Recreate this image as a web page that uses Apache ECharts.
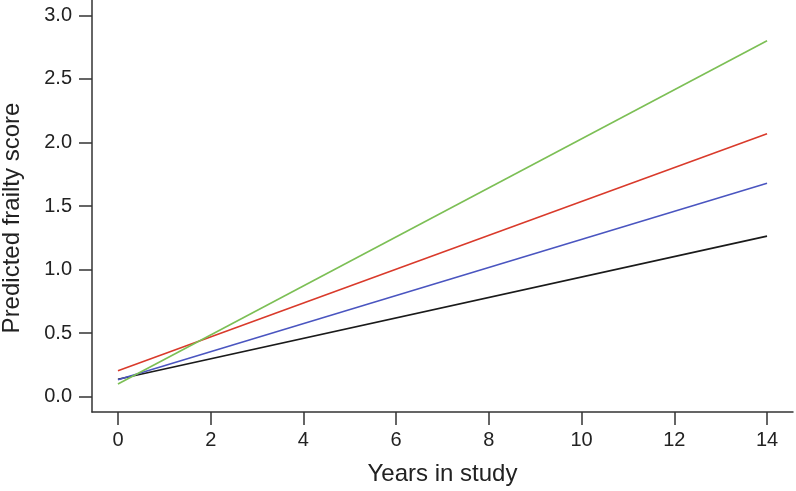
<!DOCTYPE html>
<html>
<head>
<meta charset="utf-8">
<script src="https://cdn.jsdelivr.net/npm/echarts@6/dist/echarts.min.js"></script>
<style>html,body{margin:0;padding:0;background:#fff;}#c{width:796px;height:491px;}</style>
</head>
<body>
<div id="c"></div>
<script>
const years = [0, 14];
const greenVals = [0.10, 2.80];
const redVals = [0.205, 2.068];
const blueVals = [0.134, 1.679];
const blackVals = [0.137, 1.263];
const xTicks = [0, 2, 4, 6, 8, 10, 12, 14];
const yTicks = [0, 0.5, 1.0, 1.5, 2.0, 2.5, 3.0];

const FONT = '"Liberation Sans", Arial, Helvetica, sans-serif';
const axisColor = '#333';

function pairs(vals) { return years.map((x, i) => [x, vals[i]]); }
function line(name, vals, color) {
  return { name, type: 'line', data: pairs(vals), symbol: 'none', lineStyle: { color, width: 1.6 }, itemStyle: { color }, animation: false };
}

const chart = echarts.init(document.getElementById('c'), null, { renderer: 'canvas' });
chart.setOption({
  backgroundColor: '#fff',
  animation: false,
  grid: { left: 92, right: 3, top: 0, bottom: 79, containLabel: false, outerBoundsMode: 'none' },
  xAxis: {
    type: 'value', min: -0.56, max: 14.56,
    name: 'Years in study', nameLocation: 'middle', nameGap: 50,
    nameTextStyle: { fontFamily: FONT, fontSize: 24, color: '#222' },
    axisLine: { show: true, onZero: false, lineStyle: { color: axisColor, width: 1.5 } },
    axisTick: { show: true, length: 13, customValues: xTicks, lineStyle: { color: axisColor, width: 1.5 } },
    axisLabel: { customValues: xTicks, margin: 18, fontFamily: FONT, fontSize: 20, color: '#222' },
    splitLine: { show: false }
  },
  yAxis: {
    type: 'value', min: -0.12, max: 3.12,
    name: 'Predicted frailty score', nameLocation: 'middle', nameGap: 68,
    nameTextStyle: { fontFamily: FONT, fontSize: 24, color: '#222', padding: [0, 24, 0, 0] },
    axisLine: { show: true, onZero: false, lineStyle: { color: axisColor, width: 1.5 } },
    axisTick: { show: true, length: 13, customValues: yTicks, lineStyle: { color: axisColor, width: 1.5 } },
    axisLabel: { customValues: yTicks, margin: 20, fontFamily: FONT, fontSize: 20, color: '#222', formatter: v => v.toFixed(1) },
    splitLine: { show: false }
  },
  series: [
    line('black', blackVals, '#1a1a1a'),
    line('blue', blueVals, '#4a55c0'),
    line('red', redVals, '#d93a2b'),
    line('green', greenVals, '#7cbf55')
  ]
});
</script>
</body>
</html>
